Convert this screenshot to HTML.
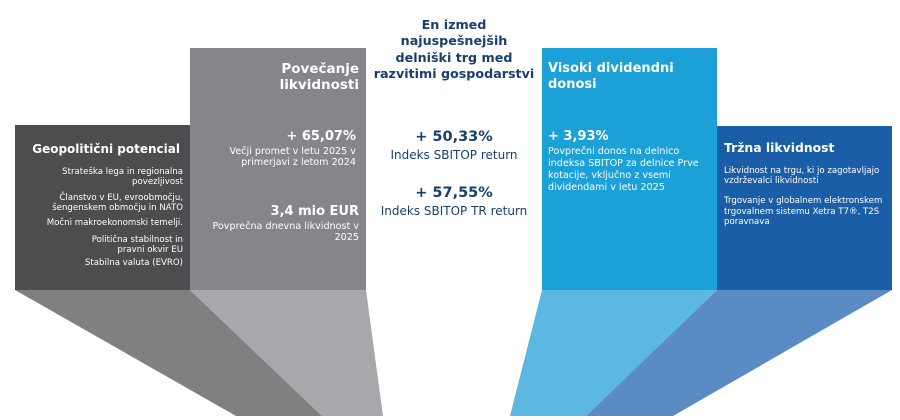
<!DOCTYPE html>
<html><head><meta charset="utf-8"><style>
*{margin:0;padding:0;box-sizing:border-box}
body{width:900px;height:420px;background:#fff;position:relative;overflow:hidden;font-family:"DejaVu Sans","Liberation Sans",sans-serif}
.b{position:absolute}
.t{position:absolute;white-space:nowrap;line-height:1.15}
.r{text-align:right}.c{text-align:center}
.w{color:#fff}.n{color:#17406f}
</style></head><body>
<svg class="b" style="left:0;top:0" width="900" height="420">
<polygon points="15,290 190,290 322,416 236,416" fill="#808080"/>
<polygon points="190,290 366,290 383,416 322,416" fill="#a6a8ab"/>
<polygon points="542,290 717,290 586,416 510,416" fill="#5bb8e0"/>
<polygon points="717,290 892,290 673,416 586,416" fill="#5a8bc3"/>
<rect x="15" y="125" width="175" height="165" fill="#4d4d4f"/>
<rect x="190" y="48" width="176" height="242" fill="#84868c"/>
<rect x="542" y="48" width="175" height="242" fill="#1ba1d8"/>
<rect x="717" y="126" width="175" height="164" fill="#1b5ea8"/>
</svg>

<div class="t w r" style="right:720px;top:143px;font-size:12px;font-weight:bold">Geopolitični potencial</div>
<div class="t w r" style="right:717px;top:167px;font-size:8.6px;line-height:10px">Strateška lega in regionalna<br>povezljivost</div>
<div class="t w r" style="right:717px;top:193px;font-size:8.6px;line-height:10px">Članstvo v EU, evroobmočju,<br>šengenskem območju in NATO</div>
<div class="t w r" style="right:717px;top:218px;font-size:8.6px;line-height:10px">Močni makroekonomski temelji.</div>
<div class="t w r" style="right:717px;top:235px;font-size:8.6px;line-height:10px">Politična stabilnost in<br>pravni okvir EU</div>
<div class="t w r" style="right:717px;top:258px;font-size:8.6px;line-height:10px">Stabilna valuta (EVRO)</div>

<div class="t w r" style="right:541px;top:61px;font-size:13.5px;font-weight:bold;line-height:16px">Povečanje<br>likvidnosti</div>
<div class="t w r" style="right:544px;top:130px;font-size:13px;font-weight:bold">+ 65,07%</div>
<div class="t w r" style="right:544px;top:146px;font-size:9.6px;line-height:11px">Večji promet v letu 2025 v<br>primerjavi z letom 2024</div>
<div class="t w r" style="right:541px;top:205px;font-size:13px;font-weight:bold">3,4 mio EUR</div>
<div class="t w r" style="right:541px;top:221px;font-size:9.6px;line-height:11px">Povprečna dnevna likvidnost v<br>2025</div>

<div class="t n c" style="left:364px;width:180px;top:17px;font-size:12.7px;font-weight:bold;line-height:16.3px">En izmed<br>najuspešnejših<br>delniški trg med<br>razvitimi gospodarstvi</div>
<div class="t n c" style="left:364px;width:180px;top:129px;font-size:14.5px;font-weight:bold">+ 50,33%</div>
<div class="t n c" style="left:364px;width:180px;top:149px;font-size:12px">Indeks SBITOP return</div>
<div class="t n c" style="left:364px;width:180px;top:185px;font-size:14.5px;font-weight:bold">+ 57,55%</div>
<div class="t n c" style="left:364px;width:180px;top:205px;font-size:12px">Indeks SBITOP TR return</div>

<div class="t w" style="left:548px;top:61px;font-size:13px;font-weight:bold;line-height:16px">Visoki dividendni<br>donosi</div>
<div class="t w" style="left:548px;top:130px;font-size:13px;font-weight:bold">+ 3,93%</div>
<div class="t w" style="left:548px;top:146px;font-size:9.6px;line-height:12px">Povprečni donos na delnico<br>indeksa SBITOP za delnice Prve<br>kotacije, vključno z vsemi<br>dividendami v letu 2025</div>

<div class="t w" style="left:724px;top:141px;font-size:12.4px;font-weight:bold">Tržna likvidnost</div>
<div class="t w" style="left:724px;top:166px;font-size:8.6px;line-height:10px">Likvidnost na trgu, ki jo zagotavljajo<br>vzdrževalci likvidnosti</div>
<div class="t w" style="left:724px;top:196px;font-size:8.6px;line-height:10.5px">Trgovanje v globalnem elektronskem<br>trgovalnem sistemu Xetra T7®, T2S<br>poravnava</div>
</body></html>
